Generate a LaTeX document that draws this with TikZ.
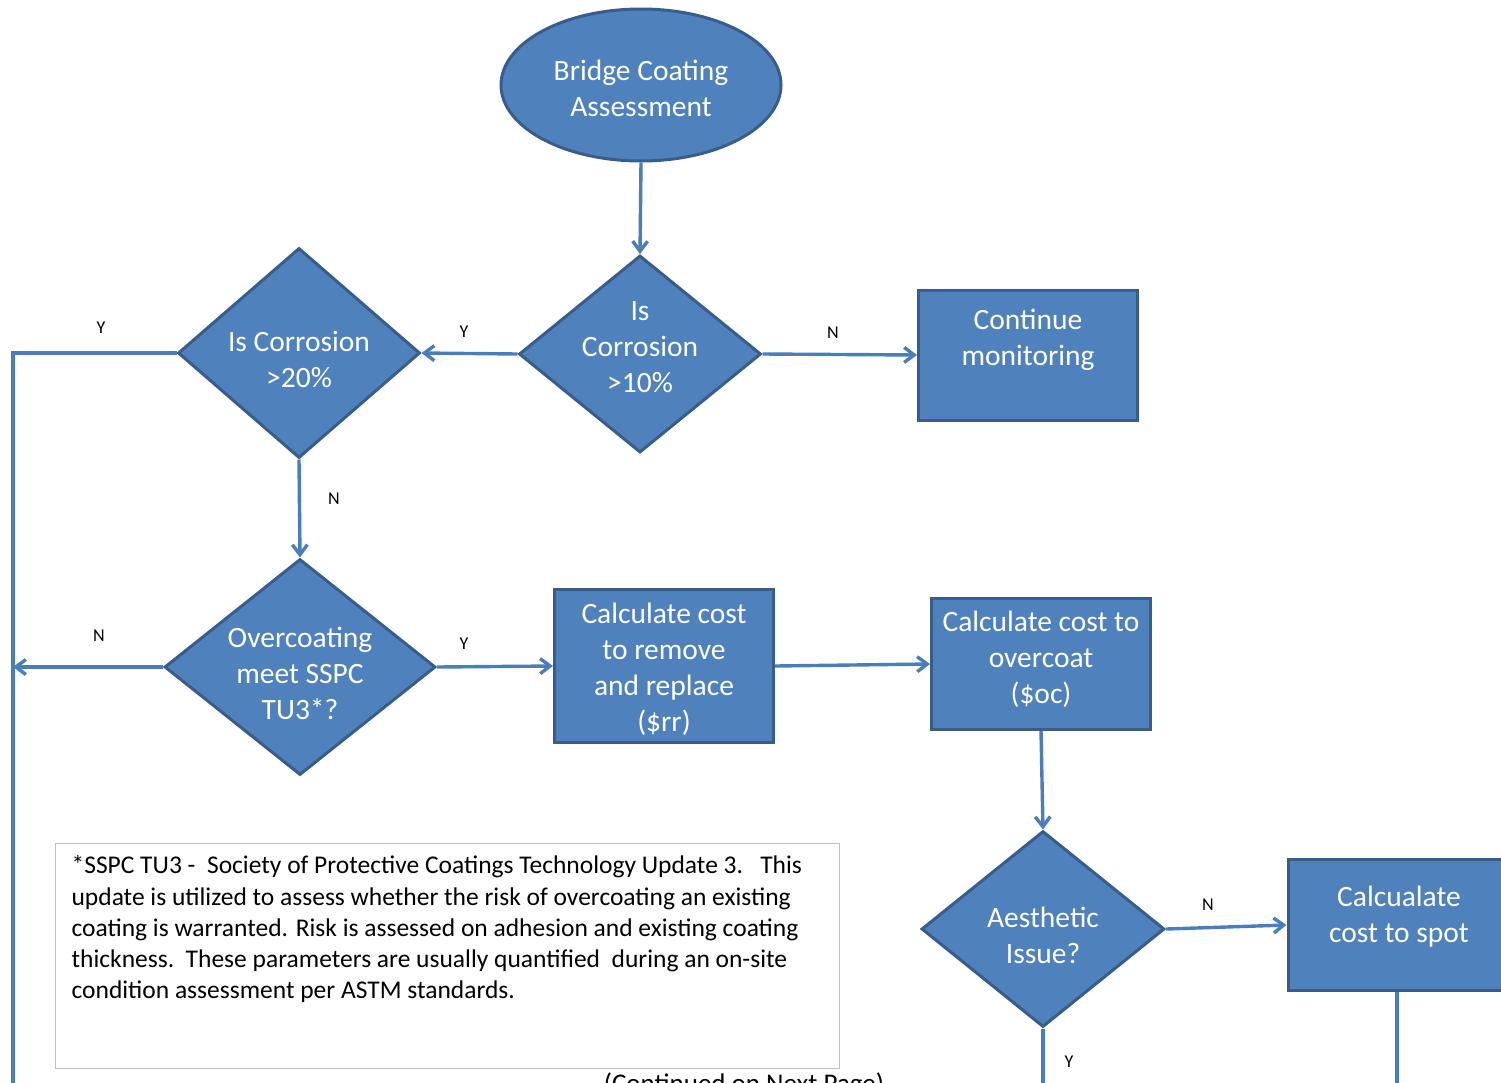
\documentclass[tikz,border=0pt]{standalone}
\usepackage{fontspec}
\setmainfont{Carlito}
\usetikzlibrary{shapes.geometric,arrows.meta}
\definecolor{boxblue}{RGB}{79,129,189}
\definecolor{boxedge}{RGB}{56,93,138}
\definecolor{linkblue}{RGB}{74,126,187}

\begin{document}
\begin{tikzpicture}[
    x=1pt, y=-1pt,
    shapetext/.style={text=white, font=\fontsize{29.5}{36}\selectfont, align=center, draw=boxedge, fill=boxblue, line width=3pt},
    terminal/.style={shapetext, ellipse, inner sep=0pt, minimum width=280pt, minimum height=152pt},
    stepbox/.style={shapetext, inner sep=0pt, minimum width=219pt, minimum height=131pt},
    decision/.style={shapetext, diamond, inner sep=-30pt, minimum width=242pt, minimum height=197pt},
    note/.style={draw=black!25, line width=1.2pt, inner xsep=16pt, inner ysep=12pt, font=\fontsize{25.5}{31.3}\selectfont},
    yn/.style={font=\fontsize{18}{20}\selectfont, text=black},
    link/.style={draw=linkblue, line width=3.4pt},
    arr/.style={link, -{Straight Barb[length=10pt,width=15pt]}}
]
\useasboundingbox (0,0) rectangle (1501,1082);
\clip (0,0) rectangle (1501,1082);

\node[terminal] (start) at (641,85) {\mbox{}\\[-9pt]Bridge Coating\\Assessment};
\node[decision] (corr10) at (640,354) {Is\\Corrosion\\>10\%\\[-23pt]\mbox{}};
\node[decision, minimum height=210pt] (corr20) at (299,353) {\mbox{}\\[-3pt]Is Corrosion\\>20\%};
\node[stepbox, minimum height=130pt] (monitor) at (1028,355) {Continue\\monitoring\\[-1pt]\mbox{}};
\node[decision, minimum width=271pt, minimum height=216pt] (tu3) at (300,667) {\mbox{}\\[-3pt]Overcoating\\meet SSPC\\TU3*?};
\node[stepbox, minimum height=153pt] (replace) at (664,666) {\mbox{}\\[-9pt]Calculate cost\\to remove\\and replace\\(\$rr)};
\node[stepbox] (overcoat) at (1041,664) {Calculate cost to\\overcoat\\(\$oc)\\[-23pt]\mbox{}};
\node[decision, minimum width=243pt, minimum height=196pt] (aesthetic) at (1043,929) {\mbox{}\\[-3pt]Aesthetic\\Issue?};
\node[stepbox, minimum width=222pt] (spot) at (1399,925) {Calcualate\\cost to spot\\[-15pt]\mbox{}};

\node[note, anchor=north west] (footnote) at (55,843) {\parbox[t][201pt][t]{752pt}{\raggedright
*SSPC TU3 -\ \ Society of Protective Coatings Technology Update 3.\ \ \ This\\
update is utilized to assess whether the risk of overcoating an existing\\
coating is warranted. Risk is assessed on adhesion and existing coating\\
thickness.\ \ These parameters are usually quantified\ \ during an on-site\\
condition assessment per ASTM standards.}};
\node[font=\fontsize{27}{32}\selectfont, anchor=base] (contd) at (744,1092) {(Continued on Next Page)};

\coordinate (lftY) at (13,353);
\coordinate (lftN) at (13,667);
\coordinate (lftEnd) at (13,1095);
\coordinate (yesEnd) at (1043,1095);
\coordinate (spotEnd) at (1397,1095);

\draw[arr] (start.south) -- (corr10.north);
\draw[arr] (corr10.west) -- (corr20.east);
\draw[arr] (corr10.east) -- (monitor.west);
\draw[link] (corr20.west) -- (lftY) -- (lftEnd);
\draw[arr] (corr20.south) -- (tu3.north);
\draw[arr] (tu3.west) -- (lftN);
\draw[arr] (tu3.east) -- (replace.west);
\draw[arr] (replace.east) -- (overcoat.west);
\draw[arr] (overcoat.south) -- (aesthetic.north);
\draw[arr] (aesthetic.east) -- (spot.west);
\draw[link] (aesthetic.south) -- (yesEnd);
\draw[link] (spot.south -| spotEnd) -- (spotEnd);

% Y / N labels
\node[yn] (lblY1) at (101,328) {Y};
\node[yn] (lblY2) at (464,332) {Y};
\node[yn] (lblN1) at (833,333) {N};
\node[yn] (lblN2) at (334,499) {N};
\node[yn] (lblN3) at (99,636) {N};
\node[yn] (lblY3) at (464,644) {Y};
\node[yn] (lblN4) at (1208,905) {N};
\node[yn] (lblY4) at (1069,1062) {Y};
\end{tikzpicture}
\end{document}
